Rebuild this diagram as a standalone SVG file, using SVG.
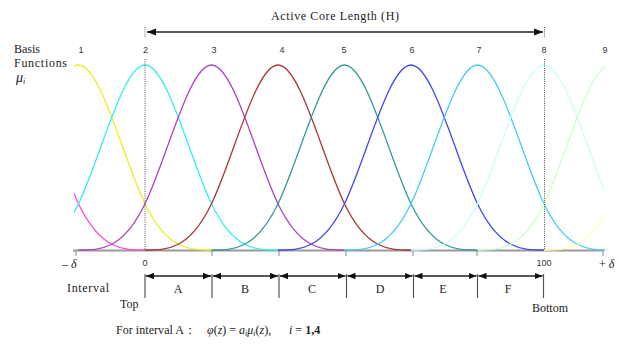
<svg xmlns="http://www.w3.org/2000/svg" xmlns:xlink="http://www.w3.org/1999/xlink" width="620" height="345" viewBox="0 0 620 345">
<style>
  .t { font-family: "Liberation Serif", "Times New Roman", serif; fill: #222; }
  .n { font-family: "Liberation Sans", Arial, sans-serif; font-size: 9px; fill: #333; }
  .b { fill: none; stroke-width: 1.3; stroke-linejoin: round; }
  .dot { stroke: #555; stroke-width: 1; stroke-dasharray: 1 1.2; fill: none; }
  .arr { stroke: #222; stroke-width: 1.6; fill: none; }
  .bnd { stroke: #555; stroke-width: 1.2; }
  .tick { stroke: #888; stroke-width: 1; }
</style>
<defs>
  <path id="bs" d="M-133,250 C-110.83,250 -88.67,250 -66.5,203.75 C-44.33,157.5 -22.17,65 0,65 C22.17,65 44.33,157.5 66.5,203.75 C88.67,250 110.83,250 133,250"/>
  <clipPath id="dom"><rect x="74" y="0" width="531" height="262"/></clipPath>
  <marker id="ahL" viewBox="0 0 10 8" refX="10" refY="4" markerUnits="userSpaceOnUse" markerWidth="9" markerHeight="8" orient="auto-start-reverse">
    <path d="M0,0 L10,4 L0,8 z" fill="#111"/>
  </marker>
  <marker id="ahS" viewBox="0 0 10 8" refX="10" refY="4" markerUnits="userSpaceOnUse" markerWidth="8" markerHeight="7" orient="auto-start-reverse">
    <path d="M0,0 L10,4 L0,8 z" fill="#111"/>
  </marker>
</defs>
<rect width="620" height="345" fill="#fff"/>

<g id="axis">
  <line x1="73" y1="250.5" x2="604" y2="250.5" stroke="#999" stroke-width="2"/>
  <line class="tick" x1="76" y1="251" x2="76" y2="256"/>
  <line class="tick" x1="212" y1="251" x2="212" y2="256"/>
  <line class="tick" x1="279" y1="251" x2="279" y2="256"/>
  <line class="tick" x1="346" y1="251" x2="346" y2="256"/>
  <line class="tick" x1="413" y1="251" x2="413" y2="256"/>
  <line class="tick" x1="477" y1="251" x2="477" y2="256"/>
  <line class="tick" x1="603" y1="251" x2="603" y2="256"/>
</g>

<g id="curves" clip-path="url(#dom)">
  <use id="mu0" xlink:href="#bs" href="#bs" x="12" class="b" stroke="#ff44dd"/>
  <use id="mu1" xlink:href="#bs" href="#bs" x="78.5" class="b" stroke="#eeee22"/>
  <use id="mu2" xlink:href="#bs" href="#bs" x="145" class="b" stroke="#33eeee"/>
  <use id="mu3" xlink:href="#bs" href="#bs" x="211.5" class="b" stroke="#aa44bb"/>
  <use id="mu4" xlink:href="#bs" href="#bs" x="278" class="b" stroke="#aa3333"/>
  <use id="mu5" xlink:href="#bs" href="#bs" x="344.5" class="b" stroke="#339999"/>
  <use id="mu6" xlink:href="#bs" href="#bs" x="411" class="b" stroke="#4444ee"/>
  <use id="mu7" xlink:href="#bs" href="#bs" x="477.5" class="b" stroke="#44ccee"/>
  <use id="mu8" xlink:href="#bs" href="#bs" x="544" class="b" stroke="#c8ffff"/>
  <use id="mu9" xlink:href="#bs" href="#bs" x="610.5" class="b" stroke="#ccffcc"/>
  <use id="mu10" xlink:href="#bs" href="#bs" x="677" class="b" stroke="#ffffaa"/>
</g>

<g id="guides">
  <line class="dot" x1="145" y1="27" x2="145" y2="38"/>
  <line class="dot" x1="145" y1="59" x2="145" y2="250"/>
  <line class="dot" x1="544.5" y1="27" x2="544.5" y2="38"/>
  <line class="dot" x1="544.5" y1="59" x2="544.5" y2="250"/>
</g>

<g id="top-arrow">
  <line class="arr" x1="147" y1="32" x2="543" y2="32" marker-start="url(#ahL)" marker-end="url(#ahL)"/>
  <text class="t" x="271" y="20" font-size="12" textLength="128" lengthAdjust="spacing">Active Core Length (H)</text>
</g>

<g id="labels">
  <text class="t" x="14" y="53" font-size="12">Basis</text>
  <text class="t" x="14" y="67" font-size="12" textLength="53" lengthAdjust="spacing">Functions</text>
  <text class="t" x="16" y="82" font-size="14" font-style="italic">μ<tspan font-size="8" dy="2">i</tspan></text>
  <g text-anchor="middle">
    <text class="n" x="81" y="53">1</text>
    <text class="n" x="145.5" y="53">2</text>
    <text class="n" x="214" y="53">3</text>
    <text class="n" x="282" y="53">4</text>
    <text class="n" x="344" y="53">5</text>
    <text class="n" x="412" y="53">6</text>
    <text class="n" x="479" y="53">7</text>
    <text class="n" x="544" y="53">8</text>
    <text class="n" x="605" y="53">9</text>
    <text class="n" x="145" y="266">0</text>
    <text class="n" x="544" y="266">100</text>
  </g>
  <text class="t" x="62" y="268" font-size="12">– <tspan font-style="italic">δ</tspan></text>
  <text class="t" x="599" y="268" font-size="12">+ <tspan font-style="italic">δ</tspan></text>
</g>

<g id="intervals">
  <g id="boundaries">
    <line class="bnd" x1="145" y1="274" x2="145" y2="298"/>
    <line class="bnd" x1="212" y1="274" x2="212" y2="298"/>
    <line class="bnd" x1="279" y1="274" x2="279" y2="298"/>
    <line class="bnd" x1="346.5" y1="274" x2="346.5" y2="298"/>
    <line class="bnd" x1="413.5" y1="274" x2="413.5" y2="298"/>
    <line class="bnd" x1="477.5" y1="274" x2="477.5" y2="298"/>
    <line class="bnd" x1="543.5" y1="274" x2="543.5" y2="298"/>
  </g>
  <g id="interval-arrows">
    <line class="arr" x1="146" y1="276" x2="211" y2="276" marker-start="url(#ahS)" marker-end="url(#ahS)"/>
    <line class="arr" x1="213" y1="276" x2="278" y2="276" marker-start="url(#ahS)" marker-end="url(#ahS)"/>
    <line class="arr" x1="280" y1="276" x2="345.5" y2="276" marker-start="url(#ahS)" marker-end="url(#ahS)"/>
    <line class="arr" x1="347.5" y1="276" x2="412.5" y2="276" marker-start="url(#ahS)" marker-end="url(#ahS)"/>
    <line class="arr" x1="414.5" y1="276" x2="476.5" y2="276" marker-start="url(#ahS)" marker-end="url(#ahS)"/>
    <line class="arr" x1="478.5" y1="276" x2="542.5" y2="276" marker-start="url(#ahS)" marker-end="url(#ahS)"/>
  </g>
  <g text-anchor="middle" font-size="12">
    <text class="t" x="178" y="293">A</text>
    <text class="t" x="245" y="293">B</text>
    <text class="t" x="312" y="293">C</text>
    <text class="t" x="380" y="293">D</text>
    <text class="t" x="443" y="293">E</text>
    <text class="t" x="508" y="293">F</text>
  </g>
  <text class="t" x="67" y="292" font-size="12" textLength="42" lengthAdjust="spacing">Interval</text>
  <text class="t" x="120" y="308" font-size="12">Top</text>
  <text class="t" x="532" y="312" font-size="12">Bottom</text>
</g>

<g id="formula">
  <text class="t" x="116" y="334" font-size="12" textLength="80" lengthAdjust="spacing">For interval A：</text>
  <text class="t" x="207" y="334" font-size="12"><tspan font-style="italic">φ</tspan>(<tspan font-style="italic">z</tspan>) = <tspan font-style="italic">a</tspan><tspan font-style="italic" font-size="8" dy="2">i</tspan><tspan font-style="italic" dy="-2">μ</tspan><tspan font-style="italic" font-size="8" dy="2">i</tspan><tspan dy="-2">(</tspan><tspan font-style="italic">z</tspan>),</text>
  <text class="t" x="289" y="334" font-size="12"><tspan font-style="italic">i</tspan> = <tspan font-weight="bold">1,4</tspan></text>
</g>
</svg>
